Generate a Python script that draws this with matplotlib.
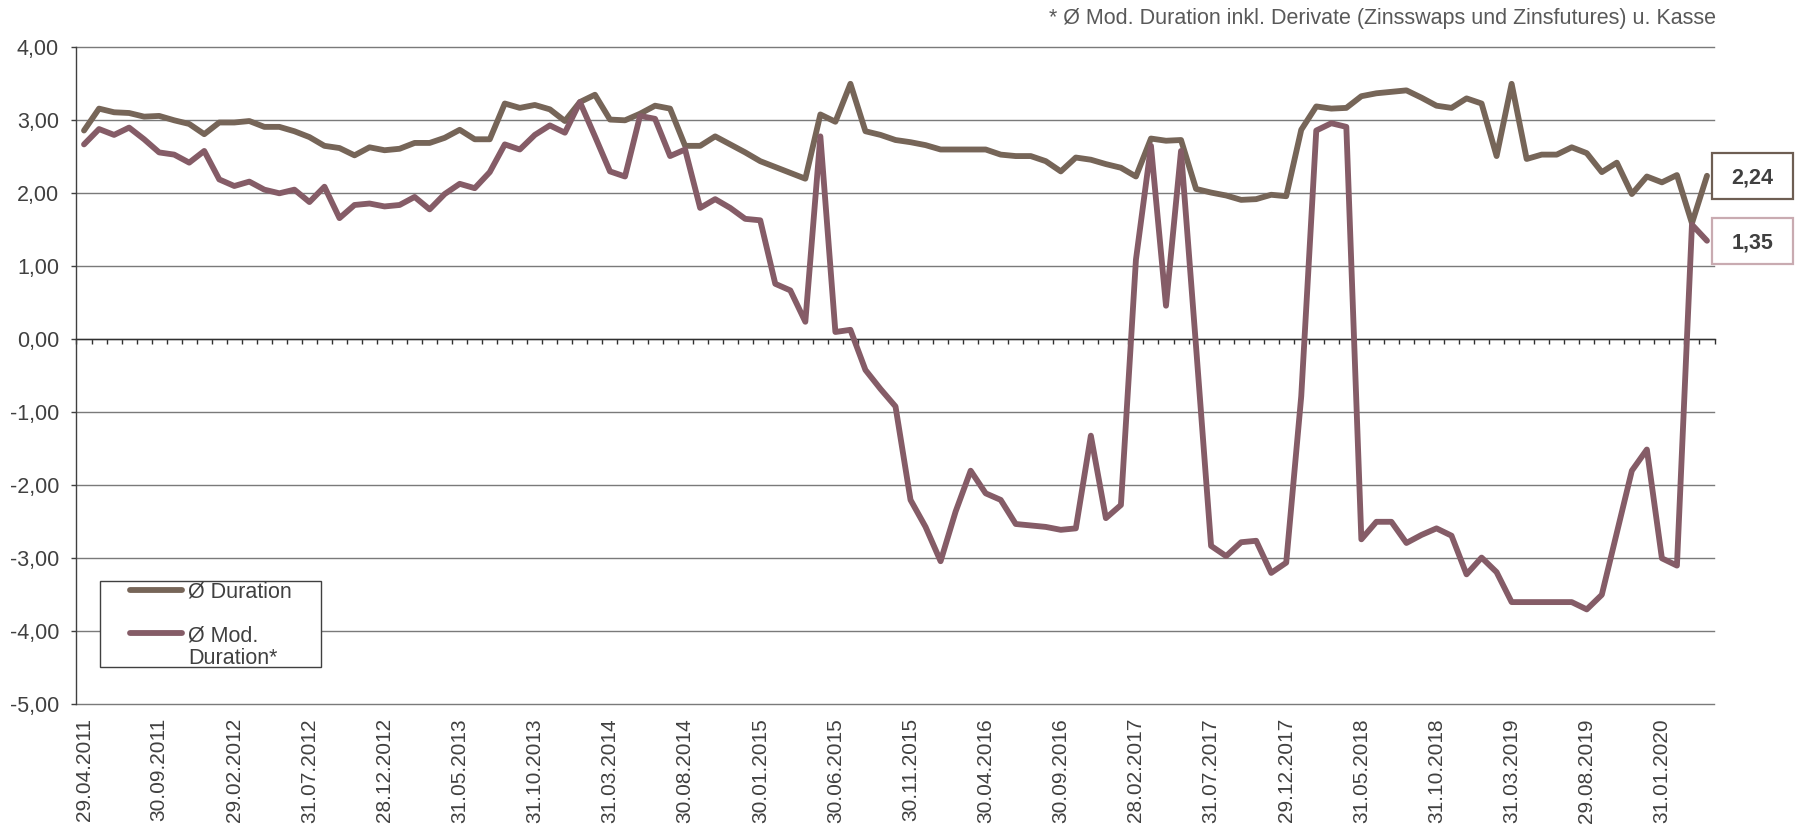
import matplotlib
matplotlib.use('Agg')
import matplotlib.pyplot as plt
import matplotlib.transforms as mtransforms
from matplotlib.patches import Rectangle
from matplotlib.lines import Line2D
import numpy as np

plt.rcParams['font.family'] = ['Liberation Sans', 'DejaVu Sans']

# ---------------- data ----------------
duration = [2.86, 3.16, 3.11, 3.10, 3.05, 3.06, 3.00, 2.95, 2.81, 2.97,
            2.97, 2.99, 2.91, 2.91, 2.85, 2.77, 2.65, 2.62, 2.52, 2.63,
            2.59, 2.61, 2.69, 2.69, 2.76, 2.87, 2.74, 2.74, 3.23, 3.17,
            3.21, 3.15, 2.99, 3.25, 3.35, 3.01, 3.00, 3.09, 3.20, 3.16,
            2.65, 2.65, 2.78, 2.67, 2.56, 2.44, 2.36, 2.28, 2.20, 3.08,
            2.98, 3.50, 2.85, 2.80, 2.73, 2.70, 2.66, 2.60, 2.60, 2.60,
            2.60, 2.53, 2.51, 2.51, 2.44, 2.30, 2.49, 2.46, 2.40, 2.35,
            2.23, 2.75, 2.72, 2.73, 2.06, 2.01, 1.97, 1.91, 1.92, 1.98,
            1.96, 2.87, 3.19, 3.16, 3.17, 3.33, 3.37, 3.39, 3.41, 3.31,
            3.20, 3.17, 3.30, 3.23, 2.51, 3.50, 2.47, 2.53, 2.53, 2.63,
            2.55, 2.29, 2.42, 1.99, 2.23, 2.15, 2.25, 1.59, 2.24]

mod_duration = [2.67, 2.88, 2.80, 2.90, 2.74, 2.56, 2.53, 2.42, 2.58, 2.19,
                2.10, 2.16, 2.05, 2.00, 2.05, 1.88, 2.09, 1.66, 1.84, 1.86,
                1.82, 1.84, 1.95, 1.78, 1.99, 2.13, 2.07, 2.29, 2.67, 2.60,
                2.80, 2.93, 2.83, 3.25, 2.78, 2.30, 2.23, 3.06, 3.02, 2.51,
                2.60, 1.80, 1.92, 1.80, 1.65, 1.63, 0.76, 0.67, 0.24, 2.78,
                0.10, 0.13, -0.42, -0.68, -0.92, -2.20, -2.57, -3.04, -2.36, -1.80,
                -2.11, -2.20, -2.53, -2.55, -2.57, -2.61, -2.59, -1.32, -2.45, -2.27,
                1.09, 2.65, 0.46, 2.58, -0.10, -2.83, -2.97, -2.78, -2.76, -3.20,
                -3.06, -0.78, 2.86, 2.96, 2.91, -2.74, -2.50, -2.50, -2.79, -2.68,
                -2.59, -2.69, -3.22, -2.99, -3.19, -3.60, -3.60, -3.60, -3.60, -3.60,
                -3.70, -3.50, -2.65, -1.80, -1.51, -3.00, -3.10, 1.57, 1.35]

tick_labels = ['29.04.2011', '30.09.2011', '29.02.2012', '31.07.2012', '28.12.2012',
               '31.05.2013', '31.10.2013', '31.03.2014', '30.08.2014', '30.01.2015',
               '30.06.2015', '30.11.2015', '30.04.2016', '30.09.2016', '28.02.2017',
               '31.07.2017', '29.12.2017', '31.05.2018', '31.10.2018', '31.03.2019',
               '29.08.2019', '31.01.2020']

series_names = ['Ø Duration', 'Ø Mod.\nDuration*']
footnote = '* Ø Mod. Duration inkl. Derivate (Zinsswaps und Zinsfutures) u. Kasse'
y_ticks = [-5, -4, -3, -2, -1, 0, 1, 2, 3, 4]

# ---------------- style ----------------
C_D = '#766558'
C_M = '#855c67'
C_TXT = '#404040'
FS = 15.5
LW = 4.2

W, H = 1806, 826
fig = plt.figure(figsize=(W / 100, H / 100), dpi=100)


def fx(px):
    return px / W


def fy(py):
    return 1 - py / H


ax = fig.add_axes([fx(76.5), fy(704.3), fx(1714.5) - fx(76.5), fy(47.3) - fy(704.3)])

n = len(duration)
x = np.arange(n)
ax.plot(x, duration, color=C_D, lw=LW, solid_joinstyle='round',
        solid_capstyle='round', zorder=3)
ax.plot(x, mod_duration, color=C_M, lw=LW, solid_joinstyle='round',
        solid_capstyle='round', zorder=3)

ax.set_xlim(-0.5, n - 0.5)
ax.set_ylim(min(y_ticks), max(y_ticks))

ax.set_yticks(y_ticks)
ax.set_yticklabels([f'{v:.2f}'.replace('.', ',') for v in y_ticks])
ax.tick_params(axis='y', length=3.6, width=1, color=C_TXT, pad=9.0,
               labelsize=FS, labelcolor=C_TXT)
ax.grid(axis='y', color='#7a7a7a', lw=1.0)
for gl in ax.get_ygridlines():
    gl.set_clip_on(False)
ax.set_axisbelow(True)

for s in ('top', 'right'):
    ax.spines[s].set_visible(False)
ax.spines['left'].set_color(C_TXT)
ax.spines['left'].set_linewidth(1.0)
ax.spines['bottom'].set_position(('data', 0))
ax.spines['bottom'].set_color('#303030')
ax.spines['bottom'].set_linewidth(1.0)

ax.set_xticks([])
ax.set_xticks(np.arange(-0.5, n, 1.0), minor=True)
ax.tick_params(axis='x', which='minor', length=3.6, width=1, color='#303030',
               direction='out', labelbottom=False)

sec = ax.secondary_xaxis('bottom')
sec.set_xticks(x[::5][:len(tick_labels)], tick_labels, rotation=90)
sec.tick_params(length=0, pad=9.9, labelsize=15, labelcolor=C_TXT)
sec.spines['bottom'].set_visible(False)

# ---------------- end value boxes ----------------
blend = mtransforms.blended_transform_factory(ax.transAxes, ax.transData)
box_h = 0.63
for val, edge in ((duration[-1], '#6e5e53'), (mod_duration[-1], '#c9abb1')):
    ax.add_patch(Rectangle((0.9985, val - box_h / 2), 0.0495, box_h,
                           transform=blend, clip_on=False, facecolor='white',
                           edgecolor=edge, lw=1.6, zorder=4))
    ax.text(1.0233, val, f'{val:.2f}'.replace('.', ','), transform=blend,
            ha='center', va='center_baseline', fontsize=FS, fontweight='bold',
            color=C_TXT, clip_on=False, zorder=5)

# ---------------- legend ----------------
fig.add_artist(Rectangle((fx(100), fy(666.5)), fx(321) - fx(100), fy(581) - fy(666.5),
                         transform=fig.transFigure, facecolor='white',
                         edgecolor=C_TXT, lw=1.0, zorder=5))
handle_y = [590, 633]
baselines = [[598], [642, 664.5]]
for name, col, hy, bls in zip(series_names, [C_D, C_M], handle_y, baselines):
    fig.add_artist(Line2D([fx(130), fx(182)], [fy(hy), fy(hy)],
                          transform=fig.transFigure, color=col, lw=LW,
                          solid_capstyle='round', zorder=6))
    for line, bl in zip(name.split('\n'), bls):
        fig.text(fx(188), fy(bl), line, ha='left', va='baseline', fontsize=FS,
                 color=C_TXT, zorder=7)

# ---------------- footnote ----------------
fig.text(fx(1716), fy(24), footnote, ha='right', va='baseline', fontsize=FS,
         color='#595959')

fig.savefig('out.png', dpi=100)
